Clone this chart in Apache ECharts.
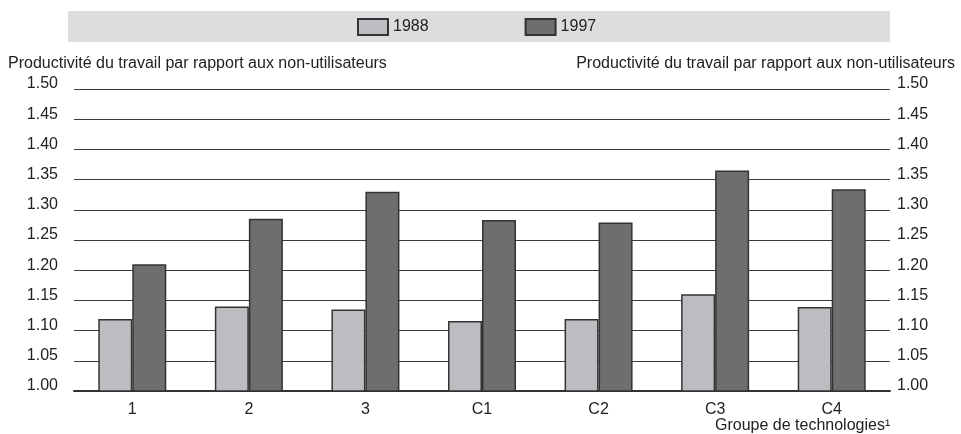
<!DOCTYPE html>
<html>
<head>
<meta charset="utf-8">
<script src="https://cdn.jsdelivr.net/npm/echarts@6/dist/echarts.min.js"></script>
<style>
  body { margin: 0; background: #fff; }
  #chart { width: 961px; height: 434px; }
</style>
</head>
<body>
<div id="chart"></div>
<script>
  // technology groups
  var groups = ['1', '2', '3', 'C1', 'C2', 'C3', 'C4']
  var years = ['1988', '1997']
  var values1988 = [1.119, 1.140, 1.135, 1.116, 1.119, 1.160, 1.139]
  var values1997 = [1.210, 1.285, 1.330, 1.283, 1.279, 1.365, 1.334]
  var yTitle = 'Productivité du travail par rapport aux non-utilisateurs'
  var xTitle = 'Groupe de technologies¹'

  var font = '"Liberation Sans", Arial, sans-serif'
  var chart = echarts.init(document.getElementById('chart'))

  var yAxisBase = {
    type: 'value',
    min: 1,
    max: 1.5,
    interval: 0.05,
    axisLine: { show: false },
    axisTick: { show: false }
  }

  chart.setOption({
    animation: false,
    textStyle: { fontFamily: font },
    graphic: [{
      type: 'rect',
      shape: { x: 68, y: 11, width: 822, height: 31 },
      style: { fill: '#dcdddf' },
      z: -1
    }],
    title: [
      { text: yTitle, left: 8, top: 56, padding: 0,
        textStyle: { fontSize: 16, fontWeight: 'normal', color: '#222', fontFamily: font } },
      { text: yTitle, right: 6, top: 56, padding: 0,
        textStyle: { fontSize: 16, fontWeight: 'normal', color: '#222', fontFamily: font } },
      { text: xTitle, left: 715, top: 418, padding: 0,
        textStyle: { fontSize: 16, fontWeight: 'normal', color: '#222', fontFamily: font } }
    ],
    legend: {
      data: years,
      icon: 'rect',
      left: 357,
      top: 18,
      padding: 0,
      itemWidth: 30,
      itemHeight: 16,
      itemGap: 96,
      textStyle: { fontSize: 16, color: '#222' }
    },
    grid: { left: 74, right: 71, top: 89, bottom: 43 },
    xAxis: {
      type: 'category',
      data: groups,
      axisLine: { lineStyle: { color: '#333', width: 2 } },
      axisTick: { show: false },
      axisLabel: { fontSize: 16, color: '#222', margin: 11 }
    },
    yAxis: [
      Object.assign({}, yAxisBase, {
        position: 'left',
        splitLine: { lineStyle: { color: '#3a3a3a', width: 1 } },
        axisLabel: {
          fontSize: 16, color: '#222', margin: 16,
          verticalAlign: 'bottom', lineHeight: 10,
          formatter: function (v) { return v.toFixed(2) }
        }
      }),
      Object.assign({}, yAxisBase, {
        position: 'right',
        splitLine: { show: false },
        axisLabel: {
          fontSize: 16, color: '#222', margin: 7,
          verticalAlign: 'bottom', lineHeight: 10,
          formatter: function (v) { return v.toFixed(2) }
        }
      })
    ],
    series: [
      {
        name: years[0],
        type: 'bar',
        data: values1988,
        barWidth: 34,
        barGap: '0%',
        itemStyle: { color: '#bcbdc0', borderColor: '#333', borderWidth: 1.5 }
      },
      {
        name: years[1],
        type: 'bar',
        data: values1997,
        barWidth: 34,
        itemStyle: { color: '#6d6e70', borderColor: '#333', borderWidth: 1.5 }
      }
    ]
  })
</script>
</body>
</html>
